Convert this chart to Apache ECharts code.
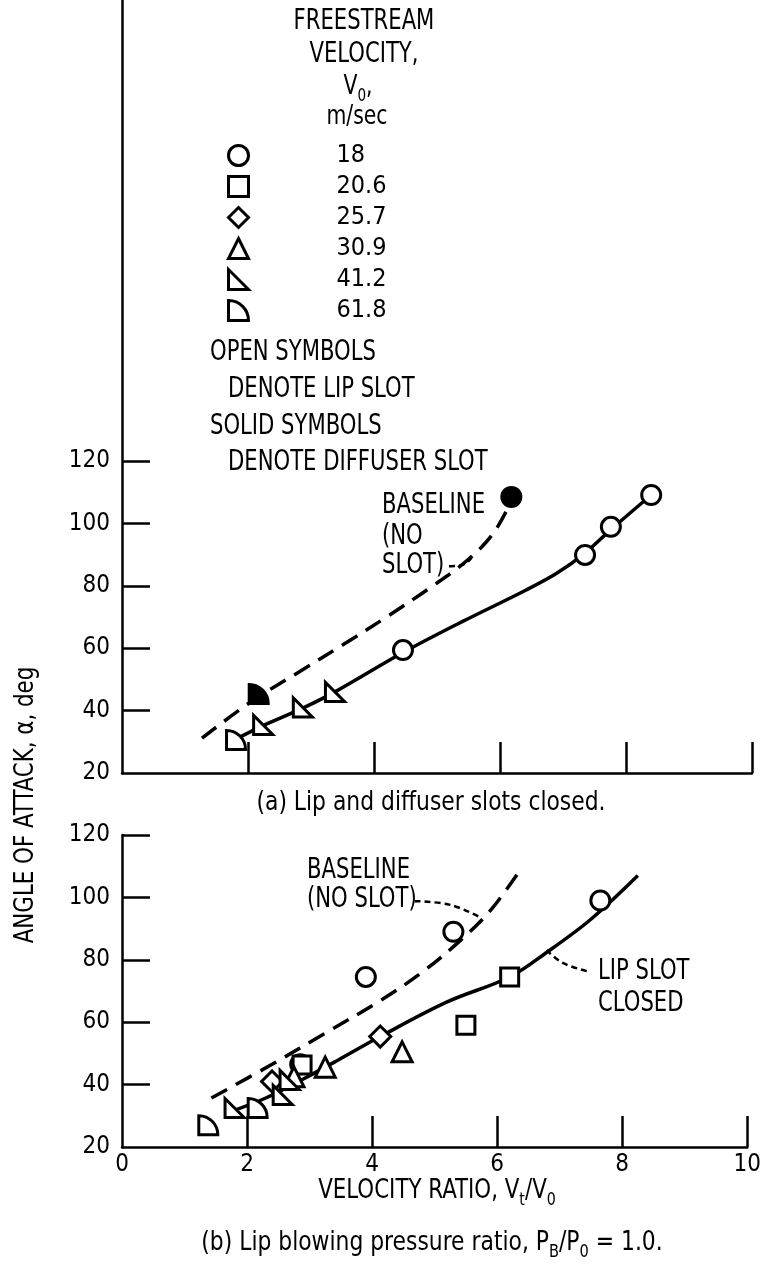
<!DOCTYPE html>
<html><head><meta charset="utf-8">
<script src="https://cdn.jsdelivr.net/npm/echarts@6/dist/echarts.min.js"></script>
<style>html,body{margin:0;padding:0;background:#fff}#c{width:764px;height:1276px}</style>
</head><body><div id="c"></div>
<script>
// ---------- DATA ----------
const xTickValues = [0, 2, 4, 6, 8, 10];
const yTickValues = [20, 40, 60, 80, 100, 120];
const legendNames = ['18', '20.6', '25.7', '30.9', '41.2', '61.8'];

// (a) Lip and diffuser slots closed
const aLip18 = [[4.46, 59.4], [7.35, 89.9], [7.76, 98.9], [8.4, 109.1]];
const aLip41 = [[2.24, 35.4], [2.87, 41.0], [3.38, 46.0]];
const aLip61 = [[1.81, 30.6]];
const aDif18 = [[6.18, 108.5]];
const aDif61 = [[2.17, 45.3]];
const aCurveLip = [[1.87, 31.5], [2.24, 35.2], [2.87, 40.8], [3.38, 46.0], [4.46, 58.6], [5.4, 68.5], [6.4, 78.5], [6.9, 84.0], [7.35, 90.5], [7.76, 98.0], [8.4, 109.1]];
const aCurveBase = [[1.27, 31.2], [2.06, 43.0], [2.81, 52.4], [3.5, 61.0], [4.2, 70.0], [4.9, 79.5], [5.5, 88.5], [5.9, 97.0], [6.2, 108.0]];

// (b) Lip blowing pressure ratio 1.0
const b18 = [[2.85, 46.5], [3.9, 74.5], [5.3, 89.0], [7.65, 99.0]];
const b20 = [[2.88, 46.3], [5.5, 59.0], [6.2, 74.5]];
const b25 = [[2.4, 41.0], [4.13, 55.4]];
const b30 = [[2.75, 42.5], [3.25, 45.6], [4.48, 50.5]];
const b41 = [[1.8, 32.5], [2.57, 36.7], [2.68, 41.5]];
const b61 = [[1.38, 27.0], [2.17, 32.5]];
const bCurveLip = [[1.76, 31.5], [2.3, 35.7], [2.9, 41.8], [3.46, 47.9], [4.13, 55.4], [5.2, 66.5], [6.2, 74.5], [6.8, 82.5], [7.5, 93.0], [8.25, 107.0]];
const bCurveBase = [[1.43, 35.7], [2.4, 46.5], [3.25, 56.5], [4.1, 66.5], [4.8, 76.0], [5.4, 86.0], [5.9, 96.0], [6.4, 109.7]];

// annotation leader anchors (data units)
const aLeaderBase = [[5.19, 86.3], [5.42, 86.8], [5.55, 89.0]];
const bLeaderBase = [[4.68, 98.8], [5.25, 97.6], [5.72, 93.7]];
const bLeaderLip = [[6.79, 83.1], [7.05, 79.0], [7.45, 76.3]];

// ---------- STYLE ----------
const FONT = "'DejaVu Sans Condensed','Liberation Sans Narrow','Arial Narrow','Liberation Sans',sans-serif";
const BLACK = '#000';
const SQ = 0.84; // horizontal squeeze for the narrow lettering
const openStyle = {color: '#fff', borderColor: BLACK, borderWidth: 3, opacity: 1};
const solidStyle = {color: BLACK, borderColor: BLACK, borderWidth: 3, opacity: 1};
const SYM = {
  '18': 'circle', '20.6': 'rect', '25.7': 'diamond', '30.9': 'triangle',
  '41.2': 'path://M0,0L0,10L10,10Z',
  '61.8': 'path://M0,0A10,10,0,0,1,10,10L0,10Z'
};
const SIZE = {'18': 19, '20.6': 18, '25.7': 21, '30.9': 20, '41.2': 19, '61.8': 19};

function scatter(name, key, data, gi, style) {
  return {type: 'scatter', name, data, xAxisIndex: gi, yAxisIndex: gi, symbol: SYM[key],
    symbolSize: SIZE[key], itemStyle: style, z: 5, silent: true};
}
function curve(name, data, gi, dashed) {
  return {type: 'line', name, data, xAxisIndex: gi, yAxisIndex: gi, smooth: 0.35, showSymbol: false,
    symbol: 'none', lineStyle: {color: BLACK, width: 3.5, type: dashed ? [18, 10] : 'solid', cap: 'butt'},
    z: 3, silent: true};
}
const rich = {
  n: {fontSize: 27, fontFamily: FONT, color: BLACK, lineHeight: 32, verticalAlign: 'top'},
  s: {fontSize: 18, fontFamily: FONT, color: BLACK, lineHeight: 18, verticalAlign: 'bottom'}
};
const labelStyle = {fontSize: 24, fontFamily: FONT, color: BLACK};

function xAxis(gi, labels) {
  return {type: 'value', gridIndex: gi, min: 0, max: 10, interval: 2,
    axisLine: {show: true, onZero: false, lineStyle: {color: BLACK, width: 2.5}},
    axisTick: {show: true, inside: true, length: 31, lineStyle: {color: BLACK, width: 2.5}, customValues: [2, 4, 6, 8, 10]},
    axisLabel: Object.assign({show: labels, margin: 6, customValues: xTickValues}, labelStyle),
    splitLine: {show: false}
  };
}
function yAxis(gi, max) {
  return {type: 'value', gridIndex: gi, min: 20, max, interval: 20,
    axisLine: {show: true, onZero: false, lineStyle: {color: BLACK, width: 2.5}},
    axisTick: {show: true, inside: true, length: 28, lineStyle: {color: BLACK, width: 2.5}, customValues: yTickValues.slice(1)},
    axisLabel: Object.assign({show: true, margin: 12, customValues: yTickValues}, labelStyle),
    splitLine: {show: false}
  };
}

const chart = echarts.init(document.getElementById('c'), null, {renderer: 'canvas'});
chart.setOption({
  animation: false,
  backgroundColor: '#fff',
  grid: [
    {left: 122, right: 12, top: 0, height: 773},
    {left: 122, right: 12, top: 835, height: 312}
  ],
  xAxis: [xAxis(0, false), xAxis(1, true)],
  yAxis: [yAxis(0, 20 + 773 / 3.12), yAxis(1, 120)],
  legend: {
    orient: 'vertical', left: 227, top: 143, padding: 0, itemGap: 6,
    itemWidth: 20, itemHeight: 20, selectedMode: false,
    textStyle: {fontSize: 25, fontFamily: FONT, color: BLACK, padding: [0, 0, 0, 83]},
    data: legendNames.map(n => ({name: n, icon: SYM[n], itemStyle: openStyle}))
  },
  series: [
    curve('a lip fit', aCurveLip, 0, false),
    curve('a baseline', aCurveBase, 0, true),
    scatter('18', '18', aLip18, 0, openStyle),
    scatter('41.2', '41.2', aLip41, 0, openStyle),
    scatter('61.8', '61.8', aLip61, 0, openStyle),
    scatter('18 diffuser', '18', aDif18, 0, solidStyle),
    scatter('61.8 diffuser', '61.8', aDif61, 0, solidStyle),
    curve('b lip fit', bCurveLip, 1, false),
    curve('b baseline', bCurveBase, 1, true),
    scatter('18', '18', b18, 1, openStyle),
    scatter('20.6', '20.6', b20, 1, openStyle),
    scatter('25.7', '25.7', b25, 1, openStyle),
    scatter('30.9', '30.9', b30, 1, openStyle),
    scatter('41.2', '41.2', b41, 1, openStyle),
    scatter('61.8', '61.8', b61, 1, openStyle)
  ]
});

function px(gi, pts) { return pts.map(p => chart.convertToPixel({gridIndex: gi}, p)); }
function txt(x, y, text, align, size, sq) {
  return {type: 'text', x, y, scaleX: sq || SQ, style: {text, fontSize: size || 28, fontFamily: FONT, fill: BLACK,
    textAlign: align || 'left', textVerticalAlign: 'middle'}, silent: true};
}
function richTxt(x, y, text, align, sq) {
  return {type: 'text', x, y, scaleX: sq || SQ, style: {text, rich, textAlign: align || 'left', textVerticalAlign: 'middle'}, silent: true};
}
function leader(pts) {
  return {type: 'polyline', shape: {points: pts, smooth: 0.4},
    style: {stroke: BLACK, lineWidth: 2.5, lineDash: [6, 4], fill: null}, silent: true};
}

chart.setOption({
  graphic: [
    txt(364, 22, 'FREESTREAM', 'center'),
    txt(364, 55, 'VELOCITY,', 'center'),
    richTxt(358, 89, '{n|V}{s|0}{n|,}', 'center'),
    txt(357, 117, 'm/sec', 'center', 27),
    txt(210, 353, 'OPEN SYMBOLS'),
    txt(228, 390, 'DENOTE LIP SLOT'),
    txt(210, 427, 'SOLID SYMBOLS'),
    txt(228, 463, 'DENOTE DIFFUSER SLOT'),
    txt(382, 506, 'BASELINE'),
    txt(382, 537, '(NO'),
    txt(382, 566, 'SLOT)'),
    leader(px(0, aLeaderBase)),
    txt(431, 803, '(a) Lip and diffuser slots closed.', 'center', 27, 0.9),
    txt(307, 871, 'BASELINE'),
    txt(307, 900, '(NO SLOT)'),
    leader(px(1, bLeaderBase)),
    txt(598, 972, 'LIP SLOT'),
    txt(598, 1004, 'CLOSED'),
    leader(px(1, bLeaderLip)),
    richTxt(437, 1193, '{n|VELOCITY RATIO, V}{s|t}{n|/V}{s|0}', 'center', 0.88),
    richTxt(432, 1245, '{n|(b) Lip blowing pressure ratio, P}{s|B}{n|/P}{s|0}{n| = 1.0.}', 'center', 0.9),
    {type: 'text', x: 26, y: 805, rotation: Math.PI / 2, scaleX: 0.88,
      style: {text: 'ANGLE OF ATTACK, α, deg', fontSize: 27, fontFamily: FONT, fill: BLACK,
        textAlign: 'center', textVerticalAlign: 'middle'}, silent: true}
  ]
});
</script></body></html>
